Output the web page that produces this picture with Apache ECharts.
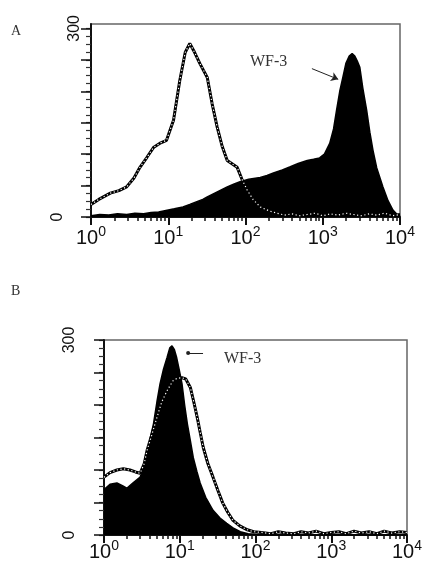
<!DOCTYPE html>
<html>
<head>
<meta charset="utf-8">
<script src="https://cdn.jsdelivr.net/npm/echarts@6/dist/echarts.min.js"></script>
<style>
html, body { margin: 0; background: #fff; }
#chart { width: 427px; height: 588px; }
</style>
</head>
<body>
<div id="chart"></div>
<script>
// tick labels
const xTicks = [1, 10, 100, 1000, 10000];
const xExp = ['0', '1', '2', '3', '4'];
const yLabels = [0, 300];

// panel A - open histogram (control)
const aOpenX = [1, 1.26, 1.78, 2.3, 2.9, 3.6, 4.3, 5.3, 6.5, 8, 9.5, 11.7, 14.1, 16.6, 19, 21.9, 25.7, 32, 37, 43, 50, 58, 78, 90, 105, 125, 155, 200, 257,
  320, 400, 500, 630, 800, 1000, 1260, 1580, 2000, 2500, 3160, 4000, 5000, 6300, 8000, 10000];
const aOpenY = [20, 28, 38, 42, 48, 62, 79, 95, 111, 118, 122, 154, 217, 262, 276, 262, 244, 222, 180, 143, 112, 90, 79, 60, 43, 28, 16, 10, 6,
  3, 5, 2, 4, 6, 2, 5, 3, 6, 4, 2, 5, 3, 6, 2, 4];

// panel A - filled histogram (WF-3)
const aFillX = [1, 1.3, 1.7, 2.2, 2.9, 3.7, 4.8, 6, 7.5, 9, 12, 15.5, 19, 23, 28, 32, 40, 50, 58, 70, 85, 110, 155, 190, 230, 300, 380, 480,
  630, 760, 910, 1050, 1230, 1380, 1510, 1660, 1820, 2000, 2200, 2400, 2600, 2800, 3020, 3300, 3700, 4070, 4470, 5000, 6000, 7000, 8100, 9000, 10000];
const aFillY = [2, 4, 3, 5, 4, 6, 5, 7, 8, 10, 13, 16, 20, 24, 28, 32, 38, 44, 48, 52, 56, 60, 63, 66, 70, 75, 80, 85,
  90, 92, 94, 100, 117, 140, 170, 200, 222, 245, 256, 260, 256, 248, 238, 205, 170, 135, 106, 78, 48, 26, 11, 5, 0];

// panel B - open histogram (control)
const bOpenX = [1, 1.2, 1.48, 1.8, 2.2, 2.6, 3, 3.4, 3.7, 4.3, 5, 5.8, 6.8, 8.1, 9.2, 10.7, 12, 13.8, 15.3, 17, 18.6, 20.4, 23.5, 27.5, 32, 37, 43, 50, 62, 78, 95,
  120, 160, 200, 250, 320, 400, 500, 630, 800, 1000, 1260, 1580, 2000, 2500, 3160, 4000, 5000, 6300, 8000, 10000];
const bOpenY = [89, 96, 100, 102, 100, 97, 95, 110, 130, 155, 181, 205, 222, 237, 241, 242, 240, 227, 205, 181, 158, 135, 110, 89, 68, 49, 35, 23, 14, 8, 5,
  4, 2, 5, 3, 2, 5, 3, 6, 2, 4, 5, 2, 6, 3, 5, 2, 6, 3, 5, 4];

// panel B - filled histogram (WF-3)
const bFillX = [1, 1.2, 1.48, 1.75, 2, 2.4, 3, 3.4, 3.7, 4.1, 4.5, 5, 5.5, 6.1, 6.8, 7.4, 7.9, 8.5, 9.1, 9.8, 10.7, 11.6, 12.6, 13.8, 15.1, 16.8, 18.6,
  22, 27.5, 34, 41.7, 52, 63, 80, 100, 150, 10000];
const bFillY = [70, 78, 80, 76, 72, 80, 89, 105, 125, 150, 171, 205, 233, 255, 273, 288, 291, 285, 273, 255, 233, 200, 171, 145, 119, 98, 80,
  58, 38, 26, 18, 10, 5, 2, 1, 0, 0];

const ink = '#111';

function zip(xs, ys) {
  return xs.map((x, i) => [x, ys[i]]);
}

// log minor ticks 1..9 of every decade
let xMinor = [];
for (let d = 1; d < 10000; d *= 10) {
  for (let k = 1; k < 10; k++) xMinor.push(k * d);
}
xMinor.push(10000);

let yMinor = [];
for (let v = 0; v <= 300; v += 12.5) yMinor.push(v);
const yMajor = [0, 50, 100, 150, 200, 250, 300];

function makeXAxes(g, margin) {
  return [{
    type: 'log', logBase: 10, min: 1, max: 10000, gridIndex: g, position: 'bottom',
    axisLine: { show: true, lineStyle: { color: ink, width: 2 } },
    axisTick: { show: true, customValues: xMinor, length: 4, lineStyle: { color: ink, width: 1.5 } },
    axisLabel: {
      customValues: xTicks, margin: margin, color: ink,
      formatter: v => '{b|10}{s|' + xExp[xTicks.indexOf(v)] + '}',
      rich: {
        b: { fontSize: 20, fontFamily: 'Liberation Sans', color: ink },
        s: { fontSize: 14, fontFamily: 'Liberation Sans', color: ink, padding: [0, 0, 12, 0] }
      }
    },
    splitLine: { show: false }
  }, {
    type: 'log', logBase: 10, min: 1, max: 10000, gridIndex: g, position: 'bottom', offset: 0,
    axisLine: { show: false },
    axisTick: { show: true, customValues: xTicks, length: 8, lineStyle: { color: ink, width: 2 } },
    axisLabel: { show: false },
    splitLine: { show: false }
  }];
}

function makeYAxes(g, max, margin, zeroPad) {
  return [{
    type: 'value', min: 0, max: max, gridIndex: g, position: 'left',
    axisLine: { show: true, lineStyle: { color: ink, width: 2 } },
    axisTick: { show: true, customValues: yMinor, length: 5, lineStyle: { color: '#333', width: 1.2 } },
    axisLabel: {
      customValues: yLabels, rotate: 90, margin: margin, color: ink,
      fontSize: 16, fontFamily: 'Liberation Sans',
      formatter: v => v === 0 ? '{z|0}' : '{t|300}',
      rich: {
        z: { fontSize: 16, fontFamily: 'Liberation Sans', color: ink, padding: [0, 0, zeroPad, 0] },
        t: { fontSize: 16, fontFamily: 'Liberation Sans', color: ink }
      }
    },
    splitLine: { show: false }
  }, {
    type: 'value', min: 0, max: max, gridIndex: g, position: 'left', offset: 0,
    axisLine: { show: false },
    axisTick: { show: true, customValues: yMajor, length: 10, lineStyle: { color: ink, width: 1.5 } },
    axisLabel: { show: false },
    splitLine: { show: false }
  }];
}

function filled(data, xi, yi, arrow) {
  let s = {
    type: 'line', xAxisIndex: xi, yAxisIndex: yi, data: data,
    symbol: 'none', silent: true,
    lineStyle: { color: '#000', width: 1.5 },
    areaStyle: { color: '#000', opacity: 1 }
  };
  s.markLine = {
    silent: true, symbolSize: arrow.size, label: { show: false },
    lineStyle: { color: '#222', width: 1, type: 'solid' },
    data: [[{ coord: arrow.from, symbol: 'none' }, { coord: arrow.to, symbol: arrow.symbol }]]
  };
  return s;
}

function outline(data, xi, yi) {
  return [{
    type: 'line', xAxisIndex: xi, yAxisIndex: yi, data: data,
    symbol: 'none', silent: true,
    lineStyle: { color: '#000', width: 3 }
  }, {
    type: 'line', xAxisIndex: xi, yAxisIndex: yi, data: data,
    symbol: 'none', silent: true,
    lineStyle: { color: '#fff', width: 1.2, type: [1.2, 2.5] }
  }];
}

const chart = echarts.init(document.getElementById('chart'));

const option = {
  animation: false,
  backgroundColor: '#fff',
  grid: [
    { left: 91, top: 24, width: 309, height: 193, show: true, borderColor: '#666', borderWidth: 1.5, backgroundColor: 'transparent' },
    { left: 104, top: 340, width: 303, height: 195, show: true, borderColor: '#666', borderWidth: 1.5, backgroundColor: 'transparent' }
  ],
  xAxis: makeXAxes(0, 8).concat(makeXAxes(1, 4)),
  yAxis: makeYAxes(0, 307, 8, 17).concat(makeYAxes(1, 300, 26, 0)),
  graphic: [
    { type: 'text', left: 11, top: 24, style: { text: 'A', font: '14px "Liberation Serif"', fill: '#333' } },
    { type: 'text', left: 11, top: 284, style: { text: 'B', font: '14px "Liberation Serif"', fill: '#333' } },
    { type: 'text', left: 250, top: 54, style: { text: 'WF-3', font: '16px "Liberation Serif"', fill: '#333' } },
    { type: 'text', left: 224, top: 351, style: { text: 'WF-3', font: '16px "Liberation Serif"', fill: '#333' } }
  ],
  series: [
    filled(zip(aFillX, aFillY), 0, 0, { from: [724, 236], to: [1585, 219], symbol: 'arrow', size: 7 }),
    ...outline(zip(aOpenX, aOpenY), 0, 0),
    filled(zip(bFillX, bFillY), 2, 2, { from: [20.3, 280], to: [12.9, 280], symbol: 'circle', size: 4 }),
    ...outline(zip(bOpenX, bOpenY), 2, 2)
  ]
};

chart.setOption(option);
</script>
</body>
</html>
